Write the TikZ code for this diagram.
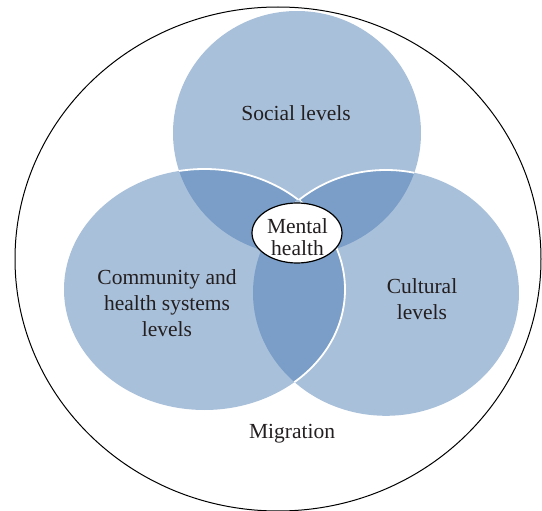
\documentclass[tikz,border=0pt]{standalone}
\usepackage{fontspec}
\setmainfont{Liberation Serif}
\usetikzlibrary{shapes.geometric}
\definecolor{lightblue}{HTML}{A9C0DA}
\definecolor{darkblue}{HTML}{7A9EC7}
\definecolor{txt}{HTML}{231F20}
\begin{document}
\begin{tikzpicture}[x=1pt,y=1pt,
  lbl/.style={font=\fontsize{21.5}{26}\selectfont, align=center, text=txt},
  wline/.style={draw=white, line width=1.8pt}]
\useasboundingbox (0,0) rectangle (542,-511);
\def\pSoc{(297,-133) ellipse [x radius=124pt, y radius=122pt]}
\def\pLeft{(204.5,-289.5) ellipse [x radius=140.5pt, y radius=120.5pt]}
\def\pRight{(386,-292.9) ellipse [x radius=133pt, y radius=122.9pt]}
% outer circle
\draw[line width=1pt] (278,-259) ellipse [x radius=263pt, y radius=252pt];
% light fills
\fill[lightblue] \pSoc;
\fill[lightblue] \pLeft;
\fill[lightblue] \pRight;
% dark overlaps
\begin{scope}
  \clip \pSoc;
  \fill[darkblue] \pLeft;
  \fill[darkblue] \pRight;
\end{scope}
\begin{scope}
  \clip \pLeft;
  \fill[darkblue] \pRight;
\end{scope}
% white outlines
\begin{scope}
  \clip \pSoc;
  \draw[wline] \pLeft;
  \draw[wline] \pRight;
\end{scope}
\begin{scope}
  \clip \pRight;
  \draw[wline] \pLeft;
\end{scope}
% triple overlap light
\begin{scope}
  \clip \pSoc;
  \clip \pLeft;
  \fill[lightblue, draw=lightblue, line width=1.8pt] \pRight;
\end{scope}
% centre
\node[draw=black, line width=1.2pt, fill=white, ellipse, minimum width=90pt, minimum height=60pt, inner sep=0pt] (mh) at (297,-233) {};
\node[lbl, font=\fontsize{21.5}{22}\selectfont] (mht) at (297.5,-237) {Mental\\health};
\node[lbl] (soc) at (296,-113.5) {Social levels};
\node[lbl] (com) at (167,-303.5) {Community and\\health systems\\levels};
\node[lbl] (cul) at (422,-299.5) {Cultural\\levels};
\node[lbl] (mig) at (292,-433.5) {Migration};
\end{tikzpicture}
\end{document}
